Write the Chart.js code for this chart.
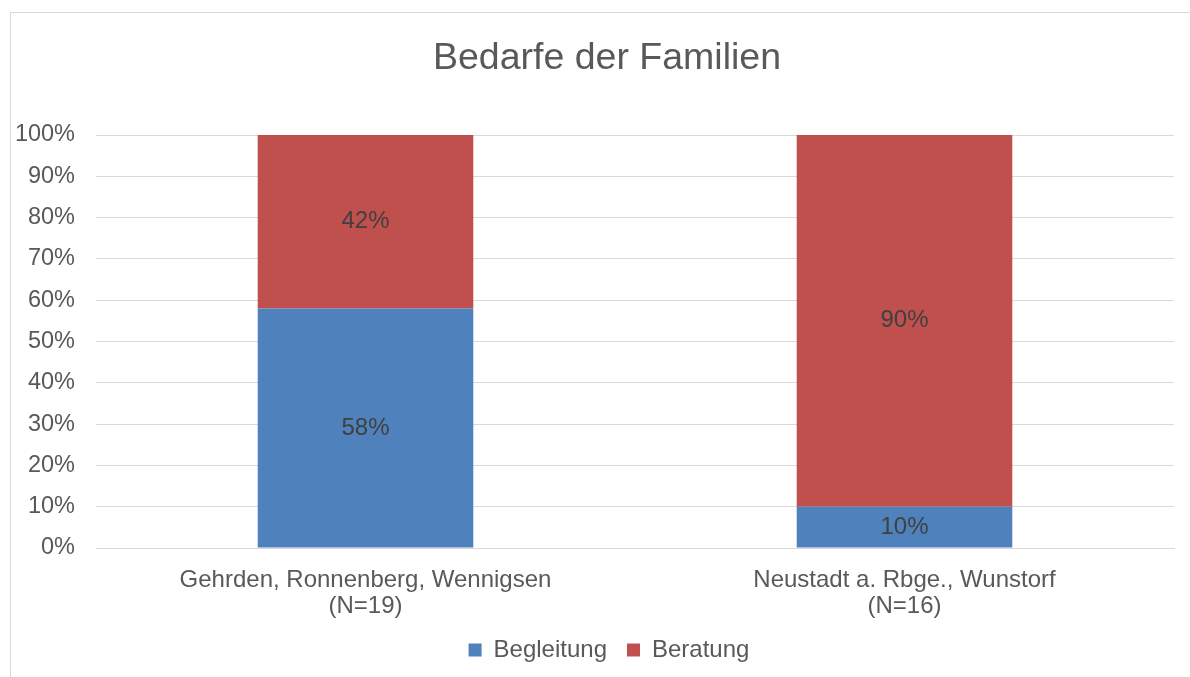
<!DOCTYPE html>
<html>
<head>
<meta charset="utf-8">
<script src="https://cdn.jsdelivr.net/npm/chart.js@4"></script>
<style>
    body { margin: 0; background: #fff; }
    #frame { position: absolute; left: 10px; top: 12px; width: 1200px; height: 700px; border: 1px solid #d9d9d9; }
    #wrap { position: absolute; left: 0; top: 0; width: 1190px; height: 677px; }
</style>
</head>
<body>
<div id="frame"></div>
<div id="wrap"><canvas id="chart"></canvas></div>
<script>
const categories = [
    ["Gehrden, Ronnenberg, Wennigsen", "(N=19)"],
    ["Neustadt a. Rbge., Wunstorf", "(N=16)"]
];
const begleitung = [58, 10];
const beratung = [42, 90];
const yTicks = [0, 10, 20, 30, 40, 50, 60, 70, 80, 90, 100];

const FONT = "'Liberation Sans', Arial, sans-serif";

// draws the percentage inside each bar segment
const segmentLabels = {
    id: "segmentLabels",
    afterDatasetsDraw(chart) {
        const ctx = chart.ctx;
        ctx.save();
        ctx.font = "24px " + FONT;
        ctx.fillStyle = "#404040";
        ctx.textAlign = "center";
        ctx.textBaseline = "middle";
        chart.data.datasets.forEach((ds, i) => {
            chart.getDatasetMeta(i).data.forEach((bar, j) => {
                ctx.fillText(ds.data[j] + "%", bar.x, (bar.y + bar.base) / 2);
            });
        });
        ctx.restore();
    }
};

// title and legend sit centred on the frame, a little right of the canvas centre
const nudge = {
    id: "nudge",
    afterLayout(chart) {
        chart.titleBlock.left += 6;
        chart.titleBlock.right += 6;
        chart.legend.left += 8;
        chart.legend.right += 8;
    }
};

new Chart(document.getElementById("chart"), {
    type: "bar",
    data: {
        labels: categories,
        datasets: [
            { label: "Begleitung", data: begleitung, backgroundColor: "#4F81BD" },
            { label: "Beratung", data: beratung, backgroundColor: "#C0504D" }
        ]
    },
    options: {
        responsive: true,
        maintainAspectRatio: false,
        animation: false,
        layout: { padding: { left: 12, right: 0, top: 0, bottom: 5 } },
        datasets: { bar: { categoryPercentage: 0.4, barPercentage: 1 } },
        scales: {
            x: {
                stacked: true,
                afterFit(axis) { axis.height = 70; },
                grid: { display: false },
                border: { color: "#d9d9d9" },
                ticks: { color: "#595959", font: { family: FONT, size: 24, lineHeight: 1.1 }, padding: 11 }
            },
            y: {
                stacked: true,
                min: 0,
                max: 100,
                afterBuildTicks(axis) { axis.ticks = yTicks.map(v => ({ value: v })); },
                afterFit(axis) { axis.width = 84; },
                grid: { color: "#d9d9d9", drawTicks: false },
                border: { display: false },
                ticks: {
                    color: "#595959",
                    padding: 21,
                    font: { family: FONT, size: 23.5 },
                    callback: v => v + "%"
                }
            },
            // empty right-hand strip so the plot stops short of the frame
            y2: {
                position: "right",
                afterFit(axis) { axis.width = 16; },
                grid: { display: false },
                border: { display: false },
                ticks: { display: false }
            }
        },
        plugins: {
            title: {
                display: true,
                text: "Bedarfe der Familien",
                color: "#595959",
                font: { family: FONT, size: 37.5, weight: "normal" },
                padding: { top: 36, bottom: 54 }
            },
            legend: {
                position: "bottom",
                labels: {
                    color: "#595959",
                    font: { family: FONT, size: 24 },
                    boxWidth: 13,
                    boxHeight: 13,
                    padding: 20
                }
            },
            tooltip: { enabled: false }
        }
    },
    plugins: [segmentLabels, nudge]
});
</script>
</body>
</html>
